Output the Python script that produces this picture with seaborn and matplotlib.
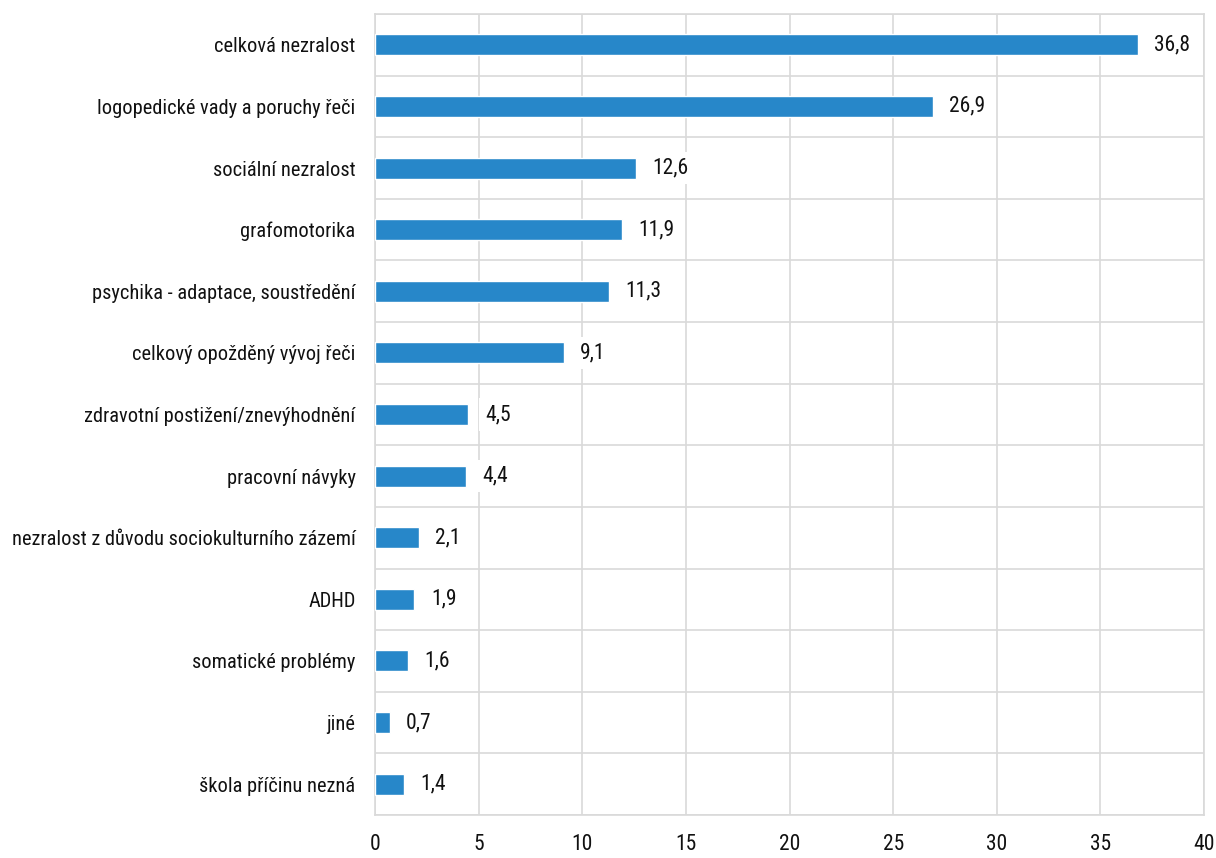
import matplotlib
matplotlib.use("Agg")
import matplotlib.pyplot as plt
import seaborn as sns
import pandas as pd
import numpy as np
from matplotlib import font_manager

categories = [
    "celková nezralost",
    "logopedické vady a poruchy řeči",
    "sociální nezralost",
    "grafomotorika",
    "psychika - adaptace, soustředění",
    "celkový opožděný vývoj řeči",
    "zdravotní postižení/znevýhodnění",
    "pracovní návyky",
    "nezralost z důvodu sociokulturního zázemí",
    "ADHD",
    "somatické problémy",
    "jiné",
    "škola příčinu nezná",
]
values = [36.8, 26.9, 12.6, 11.9, 11.3, 9.1, 4.5, 4.4, 2.1, 1.9, 1.6, 0.7, 1.4]
x_ticks = [0, 5, 10, 15, 20, 25, 30, 35, 40]

sns.set_style("white")
names = {f.name for f in font_manager.fontManager.ttflist}
fam = []
for n in ["Roboto Condensed", "Liberation Sans Narrow", "Open Sans Condensed"]:
    if n in names:
        fam.append(n)
fam += ["DejaVu Sans"]
plt.rcParams["font.family"] = fam

df = pd.DataFrame({"cat": categories, "val": values})

fig = plt.figure(figsize=(12.16, 8.58), dpi=100)
ax = fig.add_axes([375/1216, 1-815/858, (1204-375)/1216, (815-14)/858])

sns.barplot(data=df, y="cat", x="val", orient="h", color="#2787C9",
            width=0.34, saturation=1, ax=ax, zorder=3)

ax.set_xlim(0, 40)
ax.set_ylim(len(categories)-0.5, -0.5)
ax.set_xticks(x_ticks)
ax.set_xticklabels([str(t) for t in x_ticks], fontsize=15.5, color="#111111")
ax.set_yticks(range(len(categories)))
ax.set_yticklabels(categories, fontsize=14.7, color="#111111")
ax.set_yticks(np.arange(-0.5, len(categories), 1), minor=True)
ax.tick_params(axis="both", which="both", length=0)
ax.tick_params(axis="y", pad=14)
ax.tick_params(axis="x", pad=14)
ax.set_xlabel("")
ax.set_ylabel("")

ax.grid(axis="x", which="major", color="#D9D9D9", linewidth=1.2, zorder=0)
ax.grid(axis="y", which="minor", color="#D9D9D9", linewidth=1.2, zorder=0)
ax.grid(axis="y", which="major", visible=False)
for s in ax.spines.values():
    s.set_color("#D9D9D9")
    s.set_linewidth(1.2)

for i, v in enumerate(values):
    ax.text(v + 0.8, i, f"{v:.1f}".replace(".", ","), va="center", ha="left",
            fontsize=15.5, color="#111111", zorder=4,
            bbox=dict(facecolor="white", edgecolor="none", pad=4))

fig.savefig("out.png", dpi=100)
